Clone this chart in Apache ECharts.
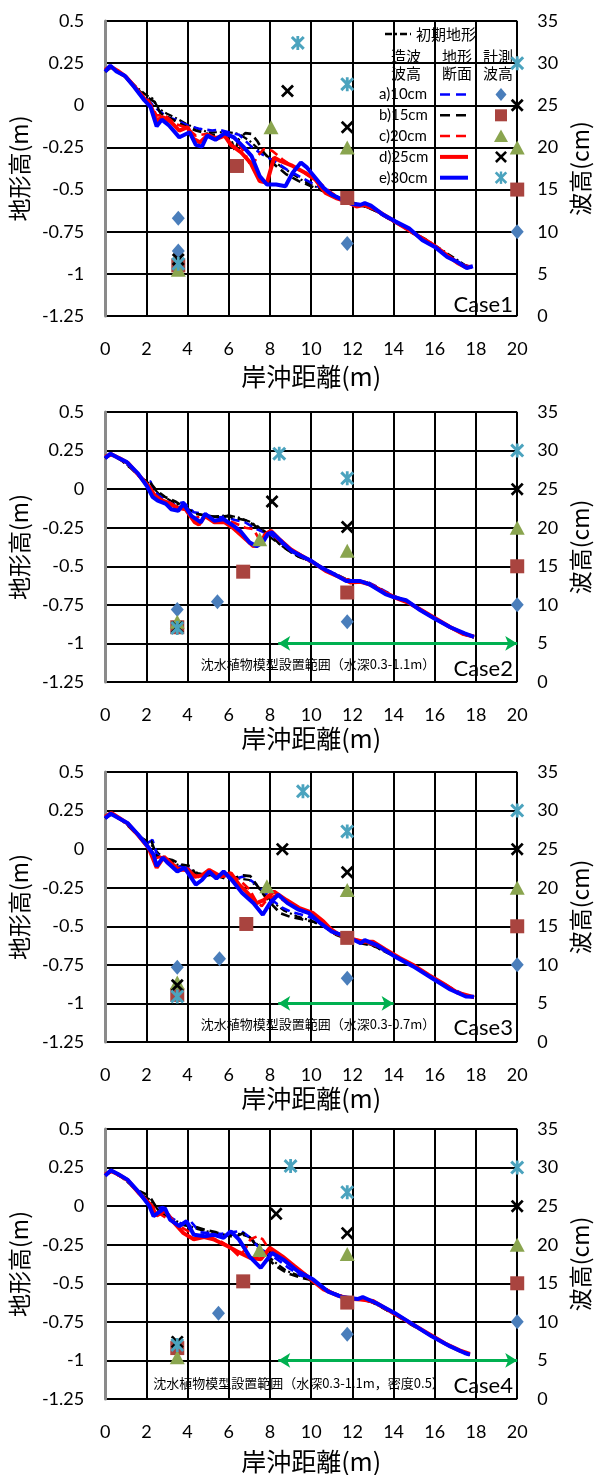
<!DOCTYPE html>
<html><head><meta charset="utf-8">
<script src="https://cdn.jsdelivr.net/npm/echarts@6/dist/echarts.min.js"></script>
<style>html,body{margin:0;padding:0;background:#fff}#c{width:600px;height:1475px}</style>
</head><body><div id="c"></div>
<script>
// ---------- axis settings ----------
const xRange = [0, 20, 2];              // min, max, interval (岸沖距離 m)
const elevRange = [-1.25, 0.5, 0.25];   // 地形高 m
const waveRange = [0, 35, 5];           // 波高 cm
const xName = '岸沖距離(m)';
const elevName = '地形高(m)';
const waveName = '波高(cm)';
const caseNames = ['Case1', 'Case2', 'Case3', 'Case4'];
const seriesNames = ['初期地形', 'a)10cm', 'b)15cm', 'c)20cm', 'd)25cm', 'e)30cm'];
const waveLabels = ['a)10cm', 'b)15cm', 'c)20cm', 'd)25cm', 'e)30cm'];

// ---------- Case1 profiles [x(m), elevation(m)] ----------
const case1_init = [[0,0.2],[0.25,0.23],[0.6,0.205],[1.0,0.17],[1.5,0.11],[2.0,0.06],[2.3,0.04],[2.6,-0.02],[3.0,-0.05],[3.5,-0.08],[4.0,-0.115],[4.5,-0.14],[5.0,-0.16],[5.5,-0.16],[6.0,-0.16],[6.5,-0.17],[7.0,-0.21],[7.5,-0.265],[8.0,-0.315],[8.5,-0.36],[9.0,-0.40],[9.5,-0.44],[10.0,-0.47],[10.5,-0.50],[11.0,-0.53],[11.5,-0.56],[12.0,-0.575],[12.5,-0.595],[13.0,-0.62],[13.5,-0.65],[14.0,-0.69],[14.5,-0.72],[15.0,-0.76],[15.5,-0.79],[16.0,-0.83],[16.5,-0.87],[17.0,-0.91],[17.5,-0.95],[17.8,-0.96]];
const case1_a = [[0,0.2],[0.3,0.23],[1.0,0.17],[1.6,0.09],[2.0,0.04],[2.5,-0.02],[3.0,-0.07],[3.4,-0.085],[4.0,-0.12],[4.6,-0.14],[5.2,-0.15],[5.5,-0.145],[6.0,-0.16],[6.5,-0.175],[7.1,-0.245],[7.6,-0.29],[8.2,-0.33],[8.8,-0.38],[9.4,-0.42],[10.0,-0.46],[10.6,-0.50],[11.2,-0.54],[11.8,-0.57],[12.0,-0.58],[12.5,-0.59],[13.1,-0.625],[13.7,-0.67],[14.3,-0.71],[14.9,-0.755],[15.5,-0.80],[16.1,-0.845],[16.7,-0.90],[17.3,-0.945],[17.8,-0.96]];
const case1_b = [[0,0.2],[0.3,0.225],[1.0,0.165],[1.6,0.09],[2.0,0.05],[2.4,0.02],[2.7,-0.05],[3.2,-0.08],[3.8,-0.12],[4.4,-0.15],[5.0,-0.17],[5.6,-0.18],[6.1,-0.2],[6.3,-0.27],[6.5,-0.2],[6.8,-0.165],[7.1,-0.17],[7.4,-0.215],[7.7,-0.28],[8.2,-0.35],[8.8,-0.41],[9.4,-0.45],[10.0,-0.48],[10.6,-0.51],[11.2,-0.54],[11.8,-0.57],[12.0,-0.585],[12.6,-0.60],[13.2,-0.63],[13.8,-0.675],[14.4,-0.715],[15.0,-0.765],[15.6,-0.805],[16.2,-0.855],[16.8,-0.91],[17.4,-0.95],[17.8,-0.962]];
const case1_c = [[0,0.205],[0.3,0.228],[1.0,0.165],[1.6,0.085],[2.1,0.03],[2.5,-0.06],[2.9,-0.06],[3.4,-0.11],[3.9,-0.13],[4.4,-0.18],[4.9,-0.17],[5.4,-0.19],[5.9,-0.17],[6.3,-0.2],[6.6,-0.25],[6.8,-0.29],[7.1,-0.37],[7.4,-0.3],[7.7,-0.26],[8.1,-0.27],[8.6,-0.32],[9.2,-0.37],[9.8,-0.41],[10.4,-0.46],[11.0,-0.52],[11.6,-0.57],[12.1,-0.59],[12.5,-0.595],[13.0,-0.615],[13.6,-0.66],[14.3,-0.705],[15.0,-0.76],[15.6,-0.80],[16.2,-0.85],[16.8,-0.905],[17.3,-0.945],[17.8,-0.96]];
const case1_d = [[0,0.21],[0.25,0.23],[0.6,0.205],[1.0,0.17],[1.5,0.10],[1.9,0.04],[2.2,0.0],[2.5,-0.09],[2.8,-0.07],[3.2,-0.10],[3.6,-0.15],[4.0,-0.13],[4.3,-0.20],[4.6,-0.22],[5.0,-0.175],[5.4,-0.20],[5.8,-0.18],[6.1,-0.235],[6.6,-0.28],[7.05,-0.34],[7.5,-0.45],[7.85,-0.46],[8.2,-0.31],[8.5,-0.33],[9.1,-0.36],[9.7,-0.40],[10.2,-0.44],[10.7,-0.52],[11.2,-0.55],[11.7,-0.57],[12.2,-0.60],[12.6,-0.59],[13.0,-0.61],[13.6,-0.655],[14.2,-0.70],[14.8,-0.745],[15.4,-0.79],[16.0,-0.835],[16.6,-0.89],[17.1,-0.935],[17.5,-0.96],[17.8,-0.958]];
const case1_e = [[0,0.2],[0.25,0.235],[0.55,0.2],[0.95,0.175],[1.4,0.11],[1.9,0.03],[2.2,-0.01],[2.5,-0.125],[2.75,-0.085],[3.1,-0.12],[3.6,-0.19],[4.1,-0.16],[4.4,-0.235],[4.7,-0.245],[4.95,-0.18],[5.35,-0.205],[5.8,-0.165],[6.25,-0.19],[6.7,-0.245],[7.1,-0.30],[7.5,-0.42],[7.85,-0.47],[8.3,-0.47],[8.75,-0.48],[9.1,-0.40],[9.5,-0.34],[9.8,-0.37],[10.2,-0.43],[10.6,-0.49],[11.0,-0.53],[11.6,-0.565],[12.0,-0.585],[12.4,-0.59],[12.6,-0.58],[12.9,-0.595],[13.5,-0.65],[14.1,-0.69],[14.75,-0.73],[15.4,-0.80],[16.0,-0.84],[16.6,-0.90],[17.1,-0.93],[17.55,-0.965],[17.85,-0.955]];

// ---------- Case2 profiles ----------
const case2_init = [[0,0.2],[0.25,0.23],[0.8,0.19],[1.3,0.13],[1.8,0.07],[2.2,0.03],[2.6,-0.03],[3.0,-0.06],[3.5,-0.1],[4.0,-0.13],[4.5,-0.16],[5.0,-0.18],[5.5,-0.175],[6.0,-0.17],[6.5,-0.185],[7.0,-0.21],[7.4,-0.24],[7.8,-0.29],[8.2,-0.33],[8.8,-0.39],[9.4,-0.44],[10.0,-0.47],[10.6,-0.515],[11.2,-0.55],[11.8,-0.59],[12.4,-0.6],[13.0,-0.625],[13.6,-0.67],[14.2,-0.705],[14.8,-0.745],[15.4,-0.79],[16.0,-0.835],[16.6,-0.885],[17.2,-0.93],[17.9,-0.962]];
const case2_a = [[0,0.2],[0.3,0.23],[0.8,0.19],[1.3,0.135],[1.8,0.06],[2.2,0.05],[2.4,-0.02],[2.8,-0.06],[3.3,-0.1],[3.8,-0.085],[4.3,-0.15],[4.8,-0.16],[5.3,-0.185],[5.8,-0.18],[6.3,-0.2],[6.8,-0.215],[7.3,-0.255],[7.7,-0.28],[8.1,-0.3],[8.6,-0.355],[9.2,-0.41],[9.8,-0.45],[10.4,-0.495],[11.0,-0.54],[11.6,-0.585],[12.2,-0.598],[12.7,-0.6],[13.3,-0.64],[14.0,-0.69],[14.7,-0.73],[15.4,-0.785],[16.1,-0.845],[16.8,-0.895],[17.5,-0.94],[17.9,-0.958]];
const case2_b = [[0,0.2],[0.3,0.225],[0.8,0.185],[1.3,0.13],[1.8,0.065],[2.2,0.04],[2.5,-0.01],[2.9,-0.05],[3.4,-0.08],[3.9,-0.12],[4.4,-0.16],[4.9,-0.17],[5.4,-0.18],[5.9,-0.175],[6.4,-0.19],[6.9,-0.205],[7.3,-0.24],[7.7,-0.27],[8.1,-0.31],[8.6,-0.37],[9.2,-0.425],[9.8,-0.46],[10.4,-0.5],[11.0,-0.545],[11.6,-0.58],[12.2,-0.6],[12.7,-0.605],[13.3,-0.645],[14.0,-0.695],[14.7,-0.73],[15.4,-0.79],[16.1,-0.845],[16.8,-0.9],[17.5,-0.945],[17.9,-0.96]];
const case2_c = [[0,0.205],[0.3,0.228],[0.8,0.19],[1.3,0.14],[1.8,0.07],[2.2,0.01],[2.5,-0.06],[2.9,-0.08],[3.3,-0.11],[3.8,-0.12],[4.3,-0.19],[4.8,-0.17],[5.3,-0.2],[5.8,-0.2],[6.3,-0.22],[6.8,-0.25],[7.2,-0.26],[7.5,-0.33],[7.7,-0.3],[8.0,-0.28],[8.5,-0.34],[9.1,-0.395],[9.7,-0.44],[10.3,-0.49],[10.9,-0.54],[11.5,-0.575],[12.1,-0.6],[12.6,-0.6],[13.2,-0.64],[13.9,-0.69],[14.6,-0.725],[15.3,-0.785],[16.0,-0.84],[16.7,-0.895],[17.4,-0.94],[17.9,-0.957]];
const case2_d = [[0,0.21],[0.3,0.225],[0.7,0.2],[1.1,0.17],[1.6,0.095],[2.1,0.02],[2.4,-0.04],[2.7,-0.07],[3.1,-0.09],[3.5,-0.12],[3.9,-0.13],[4.35,-0.215],[4.55,-0.23],[4.85,-0.175],[5.3,-0.215],[5.8,-0.215],[6.2,-0.25],[6.7,-0.31],[7.2,-0.37],[7.5,-0.355],[7.8,-0.29],[8.05,-0.27],[8.5,-0.33],[9.0,-0.39],[9.5,-0.43],[10.1,-0.475],[10.7,-0.53],[11.3,-0.565],[11.9,-0.605],[12.4,-0.6],[12.9,-0.62],[13.5,-0.665],[14.1,-0.705],[14.7,-0.735],[15.3,-0.78],[16.0,-0.835],[16.7,-0.89],[17.4,-0.94],[17.9,-0.955]];
const case2_e = [[0,0.2],[0.25,0.23],[0.6,0.205],[1.05,0.175],[1.6,0.1],[2.05,0.015],[2.3,-0.05],[2.55,-0.075],[2.95,-0.095],[3.2,-0.13],[3.55,-0.14],[3.8,-0.095],[4.2,-0.175],[4.65,-0.215],[4.85,-0.16],[5.3,-0.205],[5.75,-0.195],[6.25,-0.24],[6.55,-0.27],[7.0,-0.345],[7.35,-0.37],[7.65,-0.345],[7.9,-0.29],[8.1,-0.28],[8.6,-0.345],[9.05,-0.40],[9.55,-0.435],[10.0,-0.465],[10.5,-0.51],[11.1,-0.55],[11.7,-0.595],[12.35,-0.595],[12.8,-0.615],[13.6,-0.68],[14.0,-0.70],[14.6,-0.72],[15.3,-0.785],[16.0,-0.84],[16.75,-0.895],[17.45,-0.935],[17.9,-0.958]];

// ---------- Case3 profiles ----------
const case3_init = [[0,0.2],[0.25,0.23],[0.8,0.19],[1.3,0.13],[1.8,0.07],[2.2,0.035],[2.6,-0.03],[3.0,-0.065],[3.5,-0.1],[4.0,-0.125],[4.5,-0.155],[5.0,-0.17],[5.5,-0.18],[6.0,-0.185],[6.5,-0.19],[7.0,-0.2],[7.4,-0.245],[7.8,-0.3],[8.2,-0.35],[8.7,-0.4],[9.3,-0.435],[9.9,-0.46],[10.5,-0.49],[11.1,-0.545],[11.7,-0.58],[12.3,-0.6],[12.9,-0.62],[13.5,-0.66],[14.1,-0.7],[14.7,-0.74],[15.3,-0.79],[15.9,-0.835],[16.5,-0.885],[17.1,-0.93],[17.9,-0.962]];
const case3_a = [[0,0.2],[0.3,0.23],[0.9,0.18],[1.5,0.105],[2.0,0.035],[2.3,0.06],[2.5,-0.03],[2.9,-0.07],[3.4,-0.12],[3.9,-0.1],[4.3,-0.17],[4.8,-0.175],[5.3,-0.16],[5.8,-0.17],[6.3,-0.19],[6.8,-0.175],[7.3,-0.225],[7.7,-0.27],[8.1,-0.33],[8.6,-0.38],[9.1,-0.41],[9.7,-0.43],[10.3,-0.46],[10.9,-0.52],[11.5,-0.56],[12.1,-0.595],[12.7,-0.605],[13.3,-0.635],[14.0,-0.69],[14.7,-0.735],[15.4,-0.79],[16.1,-0.845],[16.8,-0.9],[17.5,-0.948],[17.9,-0.96]];
const case3_b = [[0,0.2],[0.3,0.225],[0.9,0.18],[1.5,0.1],[1.9,0.06],[2.25,0.05],[2.5,-0.045],[2.9,-0.06],[3.25,-0.07],[3.7,-0.1],[4.15,-0.11],[4.5,-0.185],[4.9,-0.17],[5.25,-0.165],[5.8,-0.19],[6.3,-0.185],[6.7,-0.17],[7.05,-0.175],[7.4,-0.24],[7.75,-0.305],[8.1,-0.36],[8.5,-0.415],[9.0,-0.44],[9.55,-0.455],[10.1,-0.47],[10.6,-0.5],[11.2,-0.555],[11.8,-0.585],[12.4,-0.61],[13.0,-0.625],[13.7,-0.67],[14.4,-0.715],[15.1,-0.77],[15.8,-0.825],[16.5,-0.885],[17.2,-0.935],[17.9,-0.962]];
const case3_c = [[0,0.205],[0.3,0.228],[0.9,0.18],[1.5,0.11],[2.0,0.03],[2.4,-0.06],[2.7,-0.05],[3.1,-0.1],[3.6,-0.125],[4.1,-0.15],[4.6,-0.185],[5.1,-0.155],[5.6,-0.18],[6.1,-0.17],[6.6,-0.21],[7.0,-0.26],[7.3,-0.33],[7.6,-0.37],[7.9,-0.32],[8.3,-0.3],[8.9,-0.355],[9.5,-0.39],[10.1,-0.43],[10.7,-0.49],[11.3,-0.545],[11.9,-0.58],[12.5,-0.595],[13.1,-0.625],[13.8,-0.675],[14.5,-0.72],[15.2,-0.775],[15.9,-0.83],[16.6,-0.89],[17.3,-0.94],[17.9,-0.958]];
const case3_d = [[0,0.21],[0.3,0.235],[0.7,0.2],[1.1,0.165],[1.6,0.09],[2.1,0.01],[2.5,-0.12],[2.85,-0.05],[3.2,-0.09],[3.6,-0.135],[4.0,-0.13],[4.35,-0.18],[4.7,-0.17],[5.05,-0.135],[5.6,-0.175],[6.1,-0.155],[6.5,-0.23],[6.85,-0.275],[7.35,-0.35],[7.7,-0.33],[8.2,-0.275],[8.8,-0.33],[9.4,-0.38],[10.1,-0.415],[10.6,-0.47],[11.1,-0.54],[11.8,-0.575],[12.5,-0.6],[13.0,-0.6],[13.6,-0.65],[14.3,-0.705],[15.0,-0.755],[15.7,-0.815],[16.4,-0.87],[17.1,-0.93],[17.9,-0.96]];
const case3_e = [[0,0.2],[0.27,0.23],[0.6,0.205],[1.08,0.17],[1.6,0.095],[2.05,0.02],[2.35,-0.035],[2.5,-0.11],[2.8,-0.055],[3.05,-0.09],[3.5,-0.145],[3.85,-0.12],[4.4,-0.23],[4.7,-0.2],[5.05,-0.145],[5.4,-0.19],[5.75,-0.145],[6.15,-0.2],[6.65,-0.285],[7.2,-0.35],[7.65,-0.425],[8.0,-0.35],[8.4,-0.295],[8.85,-0.35],[9.35,-0.39],[9.9,-0.415],[10.45,-0.48],[11.0,-0.535],[11.7,-0.565],[12.4,-0.61],[12.6,-0.59],[13.15,-0.62],[14.05,-0.695],[14.95,-0.76],[15.85,-0.835],[16.75,-0.91],[17.5,-0.955],[17.9,-0.957]];

// ---------- Case4 profiles ----------
const case4_init = [[0,0.2],[0.25,0.23],[0.8,0.19],[1.3,0.13],[1.8,0.07],[2.2,0.04],[2.6,-0.03],[3.0,-0.065],[3.5,-0.1],[4.0,-0.125],[4.5,-0.15],[5.0,-0.165],[5.5,-0.18],[6.0,-0.19],[6.5,-0.18],[7.0,-0.2],[7.4,-0.25],[7.8,-0.31],[8.3,-0.37],[8.8,-0.42],[9.4,-0.45],[10.0,-0.475],[10.6,-0.53],[11.2,-0.57],[11.8,-0.595],[12.4,-0.6],[13.0,-0.625],[13.6,-0.67],[14.2,-0.715],[14.8,-0.765],[15.4,-0.81],[16.0,-0.855],[16.6,-0.9],[17.2,-0.94],[17.7,-0.965]];
const case4_a = [[0,0.2],[0.3,0.23],[0.9,0.185],[1.5,0.105],[2.0,0.04],[2.4,-0.02],[2.8,-0.005],[3.2,-0.075],[3.7,-0.115],[4.1,-0.09],[4.6,-0.17],[5.1,-0.175],[5.6,-0.18],[6.1,-0.17],[6.6,-0.16],[7.0,-0.2],[7.4,-0.26],[7.8,-0.3],[8.3,-0.34],[8.9,-0.4],[9.5,-0.45],[10.1,-0.48],[10.8,-0.545],[11.5,-0.585],[12.2,-0.6],[12.8,-0.61],[13.5,-0.655],[14.2,-0.71],[14.9,-0.765],[15.6,-0.82],[16.3,-0.875],[17.0,-0.925],[17.7,-0.962]];
const case4_b = [[0,0.2],[0.3,0.225],[0.9,0.18],[1.5,0.11],[2.15,0.065],[2.45,0.0],[2.9,-0.06],[3.4,-0.11],[3.9,-0.125],[4.4,-0.135],[4.9,-0.155],[5.4,-0.17],[5.9,-0.19],[6.3,-0.2],[6.7,-0.175],[7.05,-0.205],[7.4,-0.27],[7.75,-0.325],[8.3,-0.39],[8.85,-0.435],[9.4,-0.46],[9.9,-0.476],[10.5,-0.525],[11.1,-0.57],[11.8,-0.6],[12.4,-0.6],[13.0,-0.625],[13.7,-0.675],[14.4,-0.725],[15.1,-0.78],[15.8,-0.835],[16.5,-0.89],[17.2,-0.94],[17.7,-0.965]];
const case4_c = [[0,0.2],[0.3,0.225],[0.8,0.19],[1.3,0.14],[1.8,0.06],[2.3,0.0],[2.6,-0.045],[3.0,-0.08],[3.5,-0.12],[4.0,-0.16],[4.5,-0.19],[5.0,-0.2],[5.5,-0.22],[6.0,-0.26],[6.5,-0.325],[6.8,-0.28],[7.05,-0.215],[7.4,-0.195],[7.65,-0.215],[7.95,-0.28],[8.4,-0.31],[9.0,-0.37],[9.6,-0.43],[10.3,-0.5],[11.0,-0.56],[11.7,-0.595],[12.3,-0.6],[12.9,-0.62],[13.6,-0.665],[14.3,-0.72],[15.0,-0.775],[15.7,-0.83],[16.4,-0.885],[17.1,-0.93],[17.7,-0.96]];
const case4_d = [[0,0.205],[0.3,0.228],[0.7,0.2],[1.1,0.168],[1.6,0.09],[2.2,0.01],[2.5,-0.06],[2.9,-0.03],[3.3,-0.1],[3.8,-0.175],[4.3,-0.215],[4.8,-0.2],[5.25,-0.215],[5.95,-0.26],[6.5,-0.3],[7.05,-0.335],[7.55,-0.345],[8.0,-0.27],[8.6,-0.325],[9.2,-0.39],[9.9,-0.465],[10.6,-0.54],[11.3,-0.58],[11.9,-0.6],[12.4,-0.605],[13.0,-0.615],[13.7,-0.67],[14.4,-0.725],[15.1,-0.78],[15.8,-0.835],[16.5,-0.89],[17.2,-0.935],[17.7,-0.958]];
const case4_e = [[0,0.197],[0.27,0.232],[0.6,0.21],[1.08,0.172],[1.6,0.096],[2.15,0.0],[2.35,-0.065],[2.9,-0.012],[3.15,-0.088],[3.6,-0.13],[3.95,-0.098],[4.3,-0.185],[4.85,-0.195],[5.25,-0.185],[5.75,-0.205],[6.1,-0.163],[6.5,-0.217],[7.0,-0.325],[7.55,-0.4],[7.85,-0.347],[8.1,-0.304],[8.65,-0.347],[9.35,-0.422],[10.1,-0.476],[10.8,-0.552],[11.5,-0.589],[12.25,-0.602],[12.5,-0.589],[13.15,-0.628],[14.05,-0.692],[14.95,-0.768],[15.85,-0.844],[16.75,-0.909],[17.45,-0.952],[17.7,-0.963]];

// ---------- measured wave heights [x(m), H(cm)] ----------
const case1_h10 = [[3.55,11.6],[3.55,7.7],[11.75,8.6],[20,10]];
const case1_h15 = [[3.55,6.0],[6.4,17.8],[11.75,14.0],[20,15]];
const case1_h20 = [[3.55,5.5],[8.05,22.4],[11.75,20.0],[20,20]];
const case1_h25 = [[3.55,6.7],[8.85,26.7],[11.75,22.4],[20,25]];
const case1_h30 = [[3.55,6.2],[9.35,32.4],[11.75,27.5],[20,30]];

const case2_h10 = [[3.5,9.4],[5.45,10.4],[11.75,7.8],[20,10]];
const case2_h15 = [[3.5,7.1],[6.7,14.3],[11.75,11.6],[20,15]];
const case2_h20 = [[3.5,7.8],[7.5,18.5],[11.75,17.0],[20,20]];
const case2_h25 = [[3.5,7.1],[8.1,23.4],[11.75,20.1],[20,25]];
const case2_h30 = [[3.5,7.0],[8.45,29.6],[11.75,26.4],[20,30]];

const case3_h10 = [[3.5,9.7],[5.55,10.8],[11.75,8.25],[20,10]];
const case3_h15 = [[3.5,6.1],[6.85,15.3],[11.75,13.5],[20,15]];
const case3_h20 = [[3.5,7.7],[7.85,20.2],[11.75,19.7],[20,20]];
const case3_h25 = [[3.5,7.35],[8.6,25.0],[11.75,22.0],[20,25]];
const case3_h30 = [[3.5,5.9],[9.6,32.5],[11.75,27.3],[20,30]];

const case4_h10 = [[3.5,6.8],[5.5,11.1],[11.75,8.4],[20,10]];
const case4_h15 = [[3.5,6.6],[6.7,15.25],[11.75,12.5],[20,15]];
const case4_h20 = [[3.5,5.4],[7.5,19.3],[11.75,18.8],[20,20]];
const case4_h25 = [[3.5,7.4],[8.3,24.0],[11.75,21.5],[20,25]];
const case4_h30 = [[3.5,7.0],[9.0,30.2],[11.75,26.8],[20,30]];

// ---------- vegetation model ranges [from x, to x, at elevation] ----------
const case2_range = [8.4, 20, -1];
const case3_range = [8.4, 14, -1];
const case4_range = [8.4, 20, -1];
const case2_note = '沈水植物模型設置範囲（水深0.3-1.1m）';
const case3_note = '沈水植物模型設置範囲（水深0.3-0.7m）';
const case4_note = '沈水植物模型設置範囲（水深0.3-1.1m，密度0.5）';

// ---------- layout / styles ----------
const panels = [
  {top:21,  height:295, nameGap:48, lines:[case1_init,case1_a,case1_b,case1_c,case1_d,case1_e], waves:[case1_h10,case1_h15,case1_h20,case1_h25,case1_h30], range:null, note:null, caseY:305},
  {top:412, height:270, nameGap:44, lines:[case2_init,case2_a,case2_b,case2_c,case2_d,case2_e], waves:[case2_h10,case2_h15,case2_h20,case2_h25,case2_h30], range:case2_range, note:case2_note, noteX:318, noteY:664, caseY:669},
  {top:772, height:270, nameGap:44, lines:[case3_init,case3_a,case3_b,case3_c,case3_d,case3_e], waves:[case3_h10,case3_h15,case3_h20,case3_h25,case3_h30], range:case3_range, note:case3_note, noteX:318, noteY:1024, caseY:1028},
  {top:1129,height:270, nameGap:50, lines:[case4_init,case4_a,case4_b,case4_c,case4_d,case4_e], waves:[case4_h10,case4_h15,case4_h20,case4_h25,case4_h30], range:case4_range, note:case4_note, noteX:299, noteY:1383, caseY:1386}
];
const lineStyles = [
  {color:'#000000', width:2.2, type:[8,3,2,3]},
  {color:'#0000FF', width:2.6, type:[9,5]},
  {color:'#000000', width:2.6, type:[9,5]},
  {color:'#FF0000', width:2.6, type:[9,5]},
  {color:'#FF0000', width:4,   type:'solid'},
  {color:'#0000FF', width:4,   type:'solid'}
];
const X_PTS = [[-5,-3.5],[-3.5,-5],[0,-1.5],[3.5,-5],[5,-3.5],[1.5,0],[5,3.5],[3.5,5],[0,1.5],[-3.5,5],[-5,3.5],[-1.5,0]];
const xPath = 'path://M' + X_PTS.map(p=>p.join(',')).join('L') + 'Z';
const starPath = xPath + ' M-1,-5L1,-5L1,5L-1,5Z';
const markerStyles = [
  {symbol:'diamond',  size:[13,15], color:'#4A7EBB'},
  {symbol:'rect',     size:14, color:'#A9443F'},
  {symbol:'triangle', size:[15,14], color:'#8AA54F'},
  {symbol:xPath,      size:13, color:'#000000'},
  {symbol:starPath,   size:14, color:'#4BA3BE'}
];
const TXT = {color:'#000', fontFamily:'Lato, "Noto Sans", sans-serif', fontSize:18};
const CJK = '"Noto Sans CJK JP", "Noto Sans CJK SC", sans-serif';

const grid=[], xAxis=[], yAxis=[], series=[], graphic=[];
panels.forEach((p,i)=>{
  grid.push({left:103, right:72, top:p.top, height:p.height});
  xAxis.push({gridIndex:i, type:'value', min:xRange[0], max:xRange[1], interval:xRange[2],
    axisLine:{show:false}, axisTick:{show:false},
    splitLine:{show:true, lineStyle:{color:'#000', width:2}},
    axisLabel:Object.assign({margin:24}, TXT),
    name:xName, nameLocation:'middle', nameGap:p.nameGap,
    nameTextStyle:{fontSize:25, fontFamily:CJK, color:'#000'}});
  yAxis.push({gridIndex:i, type:'value', position:'left', min:elevRange[0], max:elevRange[1], interval:elevRange[2],
    axisLine:{show:true, onZero:false, lineStyle:{color:'#8a8a8a', width:3}}, axisTick:{show:false},
    splitLine:{show:true, lineStyle:{color:'#000', width:2}},
    axisLabel:Object.assign({margin:21}, TXT),
    name:elevName, nameLocation:'middle', nameRotate:90, nameGap:70,
    nameTextStyle:{fontSize:23, fontFamily:CJK, color:'#000'}});
  yAxis.push({gridIndex:i, type:'value', position:'right', min:waveRange[0], max:waveRange[1], interval:waveRange[2],
    axisLine:{show:false}, axisTick:{show:false}, splitLine:{show:false},
    axisLabel:Object.assign({margin:20}, TXT),
    name:waveName, nameLocation:'middle', nameRotate:90, nameGap:47,
    nameTextStyle:{fontSize:23, fontFamily:CJK, color:'#000'}});
  p.lines.forEach((d,k)=>{
    series.push({type:'line', name:seriesNames[k], xAxisIndex:i, yAxisIndex:2*i, data:d,
      symbol:'none', showSymbol:false, z:2, silent:true,
      lineStyle:{color:lineStyles[k].color, width:lineStyles[k].width, type:lineStyles[k].type}});
  });
  p.waves.forEach((d,k)=>{
    const m = markerStyles[k];
    series.push({type:'scatter', name:waveLabels[k], xAxisIndex:i, yAxisIndex:2*i+1, data:d,
      symbol:m.symbol, symbolSize:m.size, z:4, silent:true, itemStyle:{color:m.color, opacity:1}});
  });
  if(p.range){
    series.push({type:'line', xAxisIndex:i, yAxisIndex:2*i, data:[], silent:true,
      markLine:{silent:true, symbol:['arrow','arrow'], symbolSize:[11,12], label:{show:false},
        lineStyle:{color:'#00B050', width:3, type:'solid'},
        data:[[{coord:[p.range[0],p.range[2]]},{coord:[p.range[1],p.range[2]]}]]}});
    graphic.push({type:'text', z:20, x:p.noteX, y:p.noteY,
      style:{text:p.note, fill:'#000', font:'13px '+CJK, align:'center', verticalAlign:'middle'}});
  }
  graphic.push({type:'text', z:20, x:513, y:p.caseY,
    style:{text:caseNames[i], fill:'#000', font:'22px Lato, "Noto Sans", sans-serif', align:'right', verticalAlign:'middle'}});
});

// ---------- legend (Case1 panel) ----------
function polyAt(pts, cx, cy, s, fill){
  return {type:'polygon', shape:{points:pts.map(q=>[cx+q[0]*s, cy+q[1]*s])}, style:{fill:fill}};
}
const lg = [];
lg.push({type:'rect', shape:{x:378, y:23, width:146, height:164}, style:{fill:'#fff'}});
lg.push({type:'line', shape:{x1:385, y1:34, x2:411, y2:34}, style:{stroke:'#000', lineWidth:2.5, lineDash:[7,3,2,3]}});
lg.push({type:'text', x:416, y:34, style:{text:seriesNames[0], fill:'#000', font:'15px '+CJK, align:'left', verticalAlign:'middle'}});
[['造波\n波高',406],['地形\n断面',457],['計測\n波高',498]].forEach(h=>{
  lg.push({type:'text', x:h[1], y:65, style:{text:h[0], fill:'#000', font:'15px '+CJK, lineHeight:17, align:'center', verticalAlign:'middle'}});
});
waveLabels.forEach((t,k)=>{
  const y = 94.5 + 20.8*k;
  lg.push({type:'text', x:379, y:y, style:{text:t, fill:'#000', font:'15px Lato, "Noto Sans", sans-serif', align:'left', verticalAlign:'middle'}});
  const ls = lineStyles[k+1];
  lg.push({type:'line', shape:{x1:440, y1:y, x2:468, y2:y},
    style:{stroke:ls.color, lineWidth: ls.type==='solid'?4:2.5, lineDash: ls.type==='solid'?null:[10,6]}});
  const cx = 501, c = markerStyles[k].color;
  if(k===0) lg.push(polyAt([[0,-6.5],[5.5,0],[0,6.5],[-5.5,0]], cx, y, 1, c));
  if(k===1) lg.push({type:'rect', shape:{x:cx-6, y:y-6, width:12, height:12}, style:{fill:c}});
  if(k===2) lg.push(polyAt([[0,-6.5],[7,6],[-7,6]], cx, y, 1, c));
  if(k===3) lg.push(polyAt(X_PTS, cx, y, 1.2, c));
  if(k===4){ lg.push(polyAt(X_PTS, cx, y, 1.25, c)); lg.push({type:'rect', shape:{x:cx-1.2, y:y-6.2, width:2.4, height:12.4}, style:{fill:c}}); }
});
graphic.push({type:'group', z:10, children:lg});

const chart = echarts.init(document.getElementById('c'), null, {renderer:'canvas'});
chart.setOption({animation:false, backgroundColor:'#fff', grid, xAxis, yAxis, series, graphic});
</script></body></html>
